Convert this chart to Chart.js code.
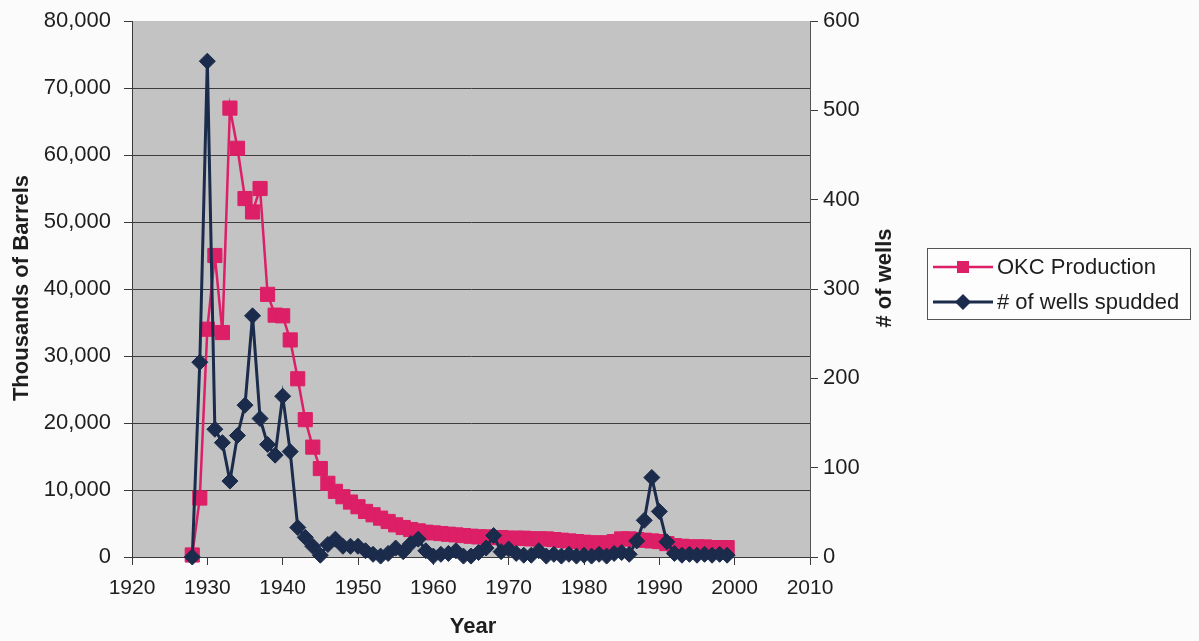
<!DOCTYPE html>
<html>
<head>
<meta charset="utf-8">
<script src="https://cdn.jsdelivr.net/npm/chart.js@4/dist/chart.umd.min.js"></script>
<style>
  html, body { margin: 0; padding: 0; background: #fbfbfb; }
  #c { display: block; }
</style>
</head>
<body>
<canvas id="c" width="1199" height="641"></canvas>
<script>
// ---- data ----
const years = [1928,1929,1930,1931,1932,1933,1934,1935,1936,1937,1938,1939,1940,1941,1942,1943,1944,1945,1946,1947,
  1948,1949,1950,1951,1952,1953,1954,1955,1956,1957,1958,1959,1960,1961,1962,1963,1964,1965,1966,1967,
  1968,1969,1970,1971,1972,1973,1974,1975,1976,1977,1978,1979,1980,1981,1982,1983,1984,1985,1986,1987,
  1988,1989,1990,1991,1992,1993,1994,1995,1996,1997,1998,1999];

const okcProduction = [300,8800,34000,45000,33500,67000,61000,53500,51500,55000,39200,36100,36000,32400,26600,20500,16400,13200,11000,9800,
  9000,8200,7500,6800,6300,5800,5300,4800,4400,4100,3900,3700,3600,3500,3400,3300,3200,3100,3000,3000,
  2900,2900,2800,2800,2800,2700,2700,2700,2600,2500,2400,2300,2200,2100,2100,2100,2300,2700,2700,2600,
  2500,2400,2300,2000,1700,1600,1500,1500,1500,1400,1400,1400];

const wellsSpudded = [0,218,555,143,128,85,136,170,270,155,126,114,180,118,33,22,12,2,14,20,
  12,12,12,7,3,1,4,10,6,15,20,7,1,3,4,7,1,1,5,10,
  24,6,9,4,2,2,7,1,3,1,3,1,2,1,3,1,4,5,3,18,
  41,89,51,17,4,2,3,2,3,2,3,2];

const xTicksMin = 1920, xTicksMax = 2010, xStep = 10;
const leftMax = 80000, leftStep = 10000;
const rightMax = 600, rightStep = 100;

const seriesNames = ['OKC Production', '# of wells spudded'];
const axisTitles = { x: 'Year', left: 'Thousands of Barrels', right: '# of wells' };

// ---- styles ----
const PINK = '#dc1f66';
const NAVY = '#1b2b4b';
const FONT = '"Liberation Sans", Arial, sans-serif';
const TXT = '#1e1e1e';
const AXIS = '#3a3a3a';

const toPts = (vals) => years.map((y, i) => ({ x: y, y: vals[i] }));

const bgPlugin = {
  id: 'plotBg',
  beforeDraw(chart) {
    const { ctx, chartArea: a } = chart;
    ctx.save();
    ctx.fillStyle = '#fbfbfb';
    ctx.fillRect(0, 0, chart.width, chart.height);
    ctx.fillStyle = '#c3c3c3';
    ctx.fillRect(a.left, a.top, a.right - a.left, a.bottom - a.top);
    ctx.restore();
  }
};

const decorPlugin = {
  id: 'decor',
  afterDraw(chart) {
    const { ctx, chartArea: a } = chart;
    ctx.save();
    ctx.fillStyle = TXT;
    ctx.font = 'bold 22px ' + FONT;
    // x title
    ctx.textAlign = 'center';
    ctx.textBaseline = 'alphabetic';
    ctx.fillText(axisTitles.x, (a.left + a.right) / 2 + 2, 633);
    // left title
    ctx.save();
    ctx.translate(28, 288);
    ctx.rotate(-Math.PI / 2);
    ctx.fillText(axisTitles.left, 0, 0);
    ctx.restore();
    // right title
    ctx.save();
    ctx.translate(891, 278);
    ctx.rotate(-Math.PI / 2);
    ctx.fillText(axisTitles.right, 0, 0);
    ctx.restore();

    // legend
    const bx = 927, by = 248, bw = 263, bh = 71;
    ctx.fillStyle = '#fdfdfd';
    ctx.fillRect(bx, by, bw, bh);
    ctx.strokeStyle = '#555';
    ctx.lineWidth = 1;
    ctx.strokeRect(bx + 0.5, by + 0.5, bw, bh);
    const rows = [
      { y: 267, color: PINK, shape: 'square', label: seriesNames[0], lw: 2.5 },
      { y: 302, color: NAVY, shape: 'diamond', label: seriesNames[1], lw: 3 }
    ];
    ctx.font = '22px ' + FONT;
    ctx.textAlign = 'left';
    ctx.textBaseline = 'middle';
    rows.forEach(r => {
      ctx.strokeStyle = r.color;
      ctx.lineWidth = r.lw;
      ctx.beginPath();
      ctx.moveTo(933, r.y);
      ctx.lineTo(993, r.y);
      ctx.stroke();
      ctx.fillStyle = r.color;
      const cx = 963;
      ctx.beginPath();
      if (r.shape === 'square') {
        ctx.rect(cx - 6, r.y - 6, 12, 12);
      } else {
        ctx.moveTo(cx, r.y - 8);
        ctx.lineTo(cx + 8, r.y);
        ctx.lineTo(cx, r.y + 8);
        ctx.lineTo(cx - 8, r.y);
        ctx.closePath();
      }
      ctx.fill();
      ctx.fillStyle = TXT;
      ctx.fillText(r.label, 997, r.y + 1);
    });
    ctx.restore();
  }
};

new Chart(document.getElementById('c'), {
  type: 'line',
  data: {
    datasets: [
      {
        label: seriesNames[1],
        data: toPts(wellsSpudded),
        yAxisID: 'y1',
        borderColor: NAVY,
        backgroundColor: NAVY,
        borderWidth: 3,
        pointStyle: 'rectRot',
        pointRadius: 8,
        pointBorderWidth: 1,
        pointBorderColor: NAVY,
        pointBackgroundColor: NAVY,
        tension: 0,
        clip: false,
        order: 0
      },
      {
        label: seriesNames[0],
        data: toPts(okcProduction),
        yAxisID: 'y',
        borderColor: PINK,
        backgroundColor: PINK,
        borderWidth: 2.5,
        pointStyle: 'rect',
        pointRadius: 10,
        pointBorderWidth: 1,
        pointBorderColor: PINK,
        pointBackgroundColor: PINK,
        tension: 0,
        clip: false,
        order: 1
      }
    ]
  },
  options: {
    responsive: false,
    animation: false,
    devicePixelRatio: 1,
    layout: { padding: { top: 21, left: 0, right: 0, bottom: 0 } },
    plugins: {
      legend: { display: false },
      tooltip: { enabled: false },
      title: { display: false }
    },
    scales: {
      x: {
        type: 'linear',
        position: 'bottom',
        min: xTicksMin,
        max: xTicksMax,
        ticks: {
          stepSize: xStep,
          callback: v => String(v),
          font: { family: FONT, size: 21 },
          color: TXT,
          padding: 11,
          maxRotation: 0
        },
        grid: { drawOnChartArea: false, drawTicks: true, tickLength: 8, tickColor: AXIS },
        border: { color: AXIS, width: 1 },
        afterFit: s => { s.height = 84; s.paddingLeft = 0; s.paddingRight = 0; }
      },
      y: {
        type: 'linear',
        position: 'left',
        min: 0,
        max: leftMax,
        ticks: {
          stepSize: leftStep,
          callback: v => Number(v).toLocaleString('en-US'),
          font: { family: FONT, size: 22 },
          color: TXT,
          padding: 13
        },
        grid: {
          color: c => (c.tick && (c.tick.value === leftMax || c.tick.value === 0)) ? 'rgba(0,0,0,0)' : '#3c3c3c',
          lineWidth: 1,
          tickLength: 8,
          tickColor: AXIS
        },
        border: { color: AXIS, width: 1 },
        afterFit: s => { s.width = 132; s.paddingTop = 0; s.paddingBottom = 0; }
      },
      y1: {
        type: 'linear',
        position: 'right',
        min: 0,
        max: rightMax,
        ticks: {
          stepSize: rightStep,
          font: { family: FONT, size: 22 },
          color: TXT,
          padding: 5
        },
        grid: { drawOnChartArea: false, tickLength: 8, tickColor: AXIS },
        border: { color: '#555', width: 1 },
        afterFit: s => { s.width = 389; s.paddingTop = 0; s.paddingBottom = 0; }
      }
    }
  },
  plugins: [bgPlugin, decorPlugin]
});
</script>
</body>
</html>
